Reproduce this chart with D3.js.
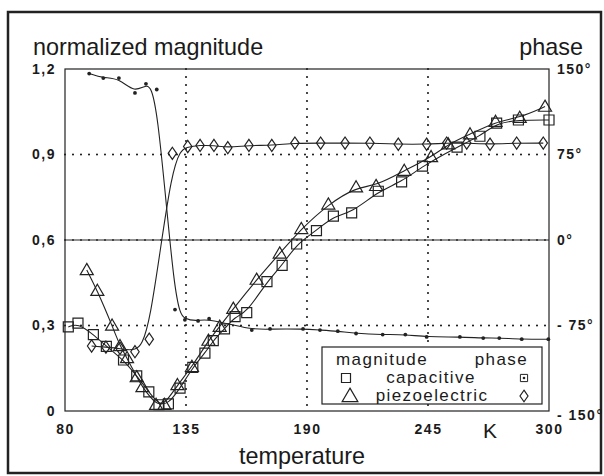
<!DOCTYPE html>
<html><head><meta charset="utf-8">
<script src="https://cdn.jsdelivr.net/npm/d3@7"></script>
<style>body{margin:0;background:#fff}svg text{font-family:"Liberation Sans",Arial,Helvetica,sans-serif;fill:#1a1a1a}</style>
</head><body>
<svg id="c" width="604" height="476"></svg>
<script>
// ---- data ----
const capMagT = [81.5,85.9,92.9,98.8,106.6,112.6,118.1,122.7,127.0,132.3,138.1,143.6,147.4,152.5,157.3,162.6,171.8,178.7,185.3,194.3,202.0,210.3,222.4,233.0,242.5,258.2,268.6,276.2,286.1,300];
const capMag = [0.295,0.308,0.268,0.227,0.179,0.123,0.067,0.022,0.025,0.080,0.153,0.203,0.247,0.288,0.331,0.345,0.454,0.511,0.586,0.633,0.684,0.695,0.771,0.804,0.859,0.926,0.964,1.010,1.021,1.021];
const piezoMagT = [89.9,94.7,101.4,105.0,108.2,112.6,115.2,121.4,125.2,131.1,137.7,145.2,150.3,156.5,167.1,177.6,187.4,199.7,212.3,221.4,234.2,246.4,254.2,264.1,275.7,286.7,298.2];
const piezoMag = [0.495,0.422,0.300,0.228,0.186,0.119,0.084,0.022,0.022,0.091,0.155,0.247,0.296,0.359,0.461,0.553,0.639,0.725,0.785,0.790,0.843,0.891,0.936,0.971,1.015,1.029,1.068];
const capPhaseT = [91.0,97.4,104.5,111.8,116.8,121.7,130.0,134.5,140.5,145.5,164.9,173.2,188.2,195.9,204.0,212.3,224.4,234.7,244.4,259.5,270.1,277.4,287.6,299.7];
const capPhase = [146,142,142,129,137,132,-61,-70,-71,-69,-79,-78,-78,-79,-80,-82,-83,-83,-85,-85,-86,-86,-87,-87];
const piezoPhaseT = [92.1,98.6,105.0,111.8,118.3,128.8,135.8,141.4,147.7,154.0,163.6,174.0,184.5,196.2,207.3,218.6,231.5,244.4,253.5,262.6,273.2,285.3,297.4];
const piezoPhase = [-93,-94,-95,-98,-87,76,82,83,83,81,83,83,85,85,85,85,84,84,85,85,84,85,85];
const tempTicks = [80,135,190,245,300];
const magTicks = [0,0.3,0.6,0.9,1.2];
const magTickLabels = ["0","0,3","0,6","0,9","1,2"];
const phaseTicks = [-150,-75,0,75,150];
const phaseTickLabels = ["- 150°","- 75°","0°","75°","150°"];

const svg = d3.select("#c");
const L = 65, R = 549, T = 69, B = 411;
const x = d3.scaleLinear().domain([80,300]).range([L,R]);
const y = d3.scaleLinear().domain([0,1.2]).range([B,T]);
const yp = d3.scaleLinear().domain([-150,150]).range([B,T]);
const ink = "#222";

// outer frame
svg.append("rect").attr("x",8).attr("y",12).attr("width",593).attr("height",461)
  .attr("fill","none").attr("stroke",ink).attr("stroke-width",2.5);

// grid
const dots = g => g.attr("stroke",ink).attr("stroke-width",2.2).attr("stroke-linecap","round").attr("stroke-dasharray","0 8");
[135,190,245].forEach(v => svg.append("line").attr("x1",x(v)).attr("x2",x(v)).attr("y1",T).attr("y2",B).call(dots));
[0.3,0.9].forEach(v => svg.append("line").attr("x1",L).attr("x2",R).attr("y1",y(v)).attr("y2",y(v)).call(dots));
svg.append("line").attr("x1",L).attr("x2",R).attr("y1",y(0.6)).attr("y2",y(0.6)).attr("stroke",ink).attr("stroke-width",1);
svg.append("line").attr("x1",L).attr("x2",R).attr("y1",y(0.6)).attr("y2",y(0.6)).call(dots).attr("stroke-width",1.8);

// plot frame
svg.append("rect").attr("x",L).attr("y",T).attr("width",R-L).attr("height",B-T)
  .attr("fill","none").attr("stroke",ink).attr("stroke-width",1.2);

// axes
const tickFont = g => g.selectAll("text").style("font-size","14px").style("letter-spacing","1.5px").style("font-weight","bold").attr("fill","#1a1a1a");
const ax = svg.append("g").attr("transform",`translate(0,${B})`)
  .call(d3.axisBottom(x).tickValues(tempTicks).tickSize(0).tickPadding(13).tickFormat(d3.format("d")));
ax.select(".domain").remove(); tickFont(ax);
const ayl = svg.append("g").attr("transform",`translate(${L},0)`)
  .call(d3.axisLeft(y).tickValues(magTicks).tickSize(0).tickPadding(9).tickFormat((d,i)=>magTickLabels[i]));
ayl.select(".domain").remove(); tickFont(ayl);
const ayr = svg.append("g").attr("transform",`translate(${R},0)`)
  .call(d3.axisRight(yp).tickValues(phaseTicks).tickSize(0).tickPadding(8).tickFormat((d,i)=>phaseTickLabels[i]));
ayr.select(".domain").remove(); tickFont(ayr);
ayr.selectAll("text").filter(d=>d===-150).attr("dy","0.62em");

// titles
svg.append("text").attr("x",33).attr("y",55).style("font-size","23.4px").text("normalized magnitude");
svg.append("text").attr("x",583).attr("y",55).attr("text-anchor","end").style("font-size","23.4px").text("phase");
svg.append("text").attr("x",302).attr("y",464).attr("text-anchor","middle").style("font-size","23.4px").text("temperature");
svg.append("text").attr("x",483).attr("y",438).style("font-size","21px").text("K");

// marker shapes
const sq = (cx,cy,s) => `M${cx-s},${cy-s}h${2*s}v${2*s}h${-2*s}Z`;
const tri = (cx,cy,s) => `M${cx},${cy-s*1.05}L${cx+s*1.05},${cy+s*0.75}L${cx-s*1.05},${cy+s*0.75}Z`;
const dia = (cx,cy,s) => `M${cx},${cy-s*1.45}L${cx+s},${cy}L${cx},${cy+s*1.45}L${cx-s},${cy}Z`;

function series(tArr, vArr, sc, shape, size, filledDot){
  const pts = tArr.map((t,i)=>[x(t), sc(vArr[i])]);
  svg.append("path").attr("d", d3.line().curve(d3.curveBasis)(pts))
    .attr("fill","none").attr("stroke",ink).attr("stroke-width",1.1);
  pts.forEach(p=>{
    if(filledDot){
      svg.append("circle").attr("cx",p[0]).attr("cy",p[1]).attr("r",1.9).attr("fill",ink);
    } else {
      svg.append("path").attr("d",shape(p[0],p[1],size)).attr("fill","none").attr("stroke",ink).attr("stroke-width",1.2);
    }
  });
}
series(capPhaseT, capPhase, yp, null, 0, true);
series(piezoPhaseT, piezoPhase, yp, dia, 4.2, false);
series(capMagT, capMag, y, sq, 5, false);
series(piezoMagT, piezoMag, y, tri, 6.2, false);

// legend
const lg = svg.append("g");
lg.append("rect").attr("x",322).attr("y",347).attr("width",220).attr("height",57)
  .attr("fill","#fff").attr("stroke",ink).attr("stroke-width",1.2);
const lt = (tx,ty,s,anchor) => lg.append("text").attr("x",tx).attr("y",ty).attr("text-anchor",anchor)
  .style("font-size","17px").style("letter-spacing","1.4px").text(s);
lt(336,365,"magnitude","start");
lt(528,365,"phase","end");
lt(431,383,"capacitive","middle");
lt(432,401,"piezoelectric","middle");
lg.append("path").attr("d",sq(346,378,4.5)).attr("fill","none").attr("stroke",ink).attr("stroke-width",1.2);
lg.append("path").attr("d",tri(350,396,7.5)).attr("fill","none").attr("stroke",ink).attr("stroke-width",1.2);
lg.append("path").attr("d",sq(524,378,3.6)).attr("fill","none").attr("stroke",ink).attr("stroke-width",1);
lg.append("circle").attr("cx",524).attr("cy",378).attr("r",1.3).attr("fill",ink);
lg.append("path").attr("d",dia(524,396,4)).attr("fill","none").attr("stroke",ink).attr("stroke-width",1.2);
</script>
</body></html>
